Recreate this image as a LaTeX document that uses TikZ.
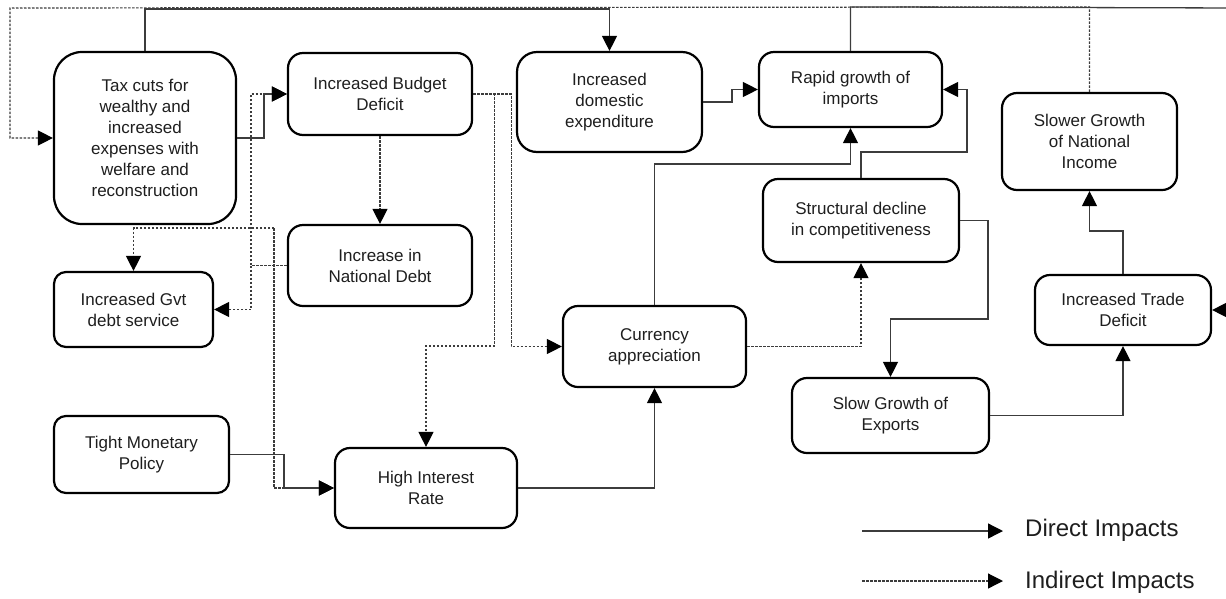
\documentclass[tikz,border=0pt]{standalone}
\usepackage{fontspec}
\setmainfont{Liberation Sans}
\usetikzlibrary{arrows.meta}
\definecolor{textc}{HTML}{1E1E1E}
\definecolor{linec}{HTML}{3C3C3C}
\begin{document}
\begin{tikzpicture}[x=1pt,y=-1pt,
  box/.style={draw=black, line width=2.2pt, rounded corners=15pt, align=center,
    inner sep=0pt, text=textc, font=\fontsize{17}{21}\selectfont},
  sz/.style 2 args={minimum width=#1pt, minimum height=#2pt},
  tip/.style={-{Triangle[length=15pt,width=15pt,black]}},
  direct/.style={draw=linec, line width=1.3pt, tip},
  indirect/.style={draw=linec, line width=1.2pt, dash pattern=on 2.5pt off 1.5pt, tip},
  legendtxt/.style={anchor=west, inner sep=0pt, text=textc, font=\fontsize{24}{28}\selectfont}
]
\useasboundingbox (0,0) rectangle (1226,598);
\clip (0,0) rectangle (1226,598);

% nodes
\node[box, sz={182}{172}, rounded corners=28pt] (tax) at (145,138) {Tax cuts for\\wealthy and\\increased\\expenses with\\welfare and\\reconstruction};
\node[box, sz={184}{82}] (bud) at (380,94) {Increased Budget\\Deficit};
\node[box, sz={185}{100}, rounded corners=20pt] (dom) at (609.5,102) {Increased\\domestic\\expenditure};
\node[box, sz={183}{75}] (rap) at (850.5,89.5) {Rapid growth of\\imports};
\node[box, sz={175}{97}] (slo) at (1089.5,141.5) {Slower Growth\\of National\\Income};
\node[box, sz={184}{81}] (nat) at (380,265.5) {Increase in\\National Debt};
\node[box, sz={159}{75}, rounded corners=12pt] (gvt) at (133.5,309.5) {Increased Gvt\\debt service};
\node[box, sz={196}{83}] (str) at (861,220.5) {Structural decline\\in competitiveness};
\node[box, sz={183}{81}] (cur) at (654.5,346.5) {Currency\\appreciation};
\node[box, sz={176}{70}] (trd) at (1123,310) {Increased Trade\\Deficit};
\node[box, sz={197}{75}] (exp) at (890.5,415.5) {Slow Growth of\\Exports};
\node[box, sz={175}{77}, rounded corners=12pt] (tmp) at (141.5,454.5) {Tight Monetary\\Policy};
\node[box, sz={182}{80}] (hir) at (426,488) {High Interest\\Rate};

% junction points
\coordinate (jn) at (251,265.5);
\coordinate (jt) at (274,228);

% top loops
\draw[indirect] (slo.north) -- ++(0,-85) -- (10,8) |- (tax.west);
\draw[direct] (tax.north) -- ++(0,-42) -| (dom.north);
\draw[direct] (rap.north) -- ++(0,-44) -- (1240,8) |- (trd.east);

% left part
\draw[direct] (tax.east) -- ++(27,0) |- (bud.west);
\draw[indirect] (nat.west) -- (jn) |- (bud.west);
\draw[indirect] (jn) |- (gvt.east);
\draw[indirect] (jt) -| (gvt.north);
\draw[indirect] (jt) |- (hir.west);
\draw[direct] (tmp.east) -- ++(54,0) |- (hir.west);
\draw[indirect] (bud.south) -- (nat.north);
\draw[indirect] (bud.east) -- ++(38,0) |- (cur.west);
\draw[indirect] (bud.east) -- ++(21,0) -- ++(0,252) -| (hir.north);

% middle / right part
\draw[direct] (hir.east) -| (cur.south);
\draw[direct] (cur.north) -- ++(0,-141) -| (rap.south);
\draw[indirect] (cur.east) -| (str.south);
\draw[direct] (str.north) -- ++(0,-26) -- ++(106,0) |- (rap.east);
\draw[direct] (str.east) -- ++(28,0) -- ++(0,98.5) -| (exp.north);
\draw[direct] (exp.east) -| (trd.south);
\draw[direct] (trd.north) -- ++(0,-43) -| (slo.south);
\draw[direct] (dom.east) -- ++(29,0) |- (rap.west);

% legend
\coordinate (l1s) at (862,531);
\coordinate (l1e) at (1003,531);
\coordinate (l2s) at (862,581);
\coordinate (l2e) at (1003,581);
\draw[direct] (l1s) -- (l1e);
\draw[indirect] (l2s) -- (l2e);
\node[legendtxt] (l1t) at (1025,530) {Direct Impacts};
\node[legendtxt] (l2t) at (1025,582) {Indirect Impacts};
\end{tikzpicture}
\end{document}
